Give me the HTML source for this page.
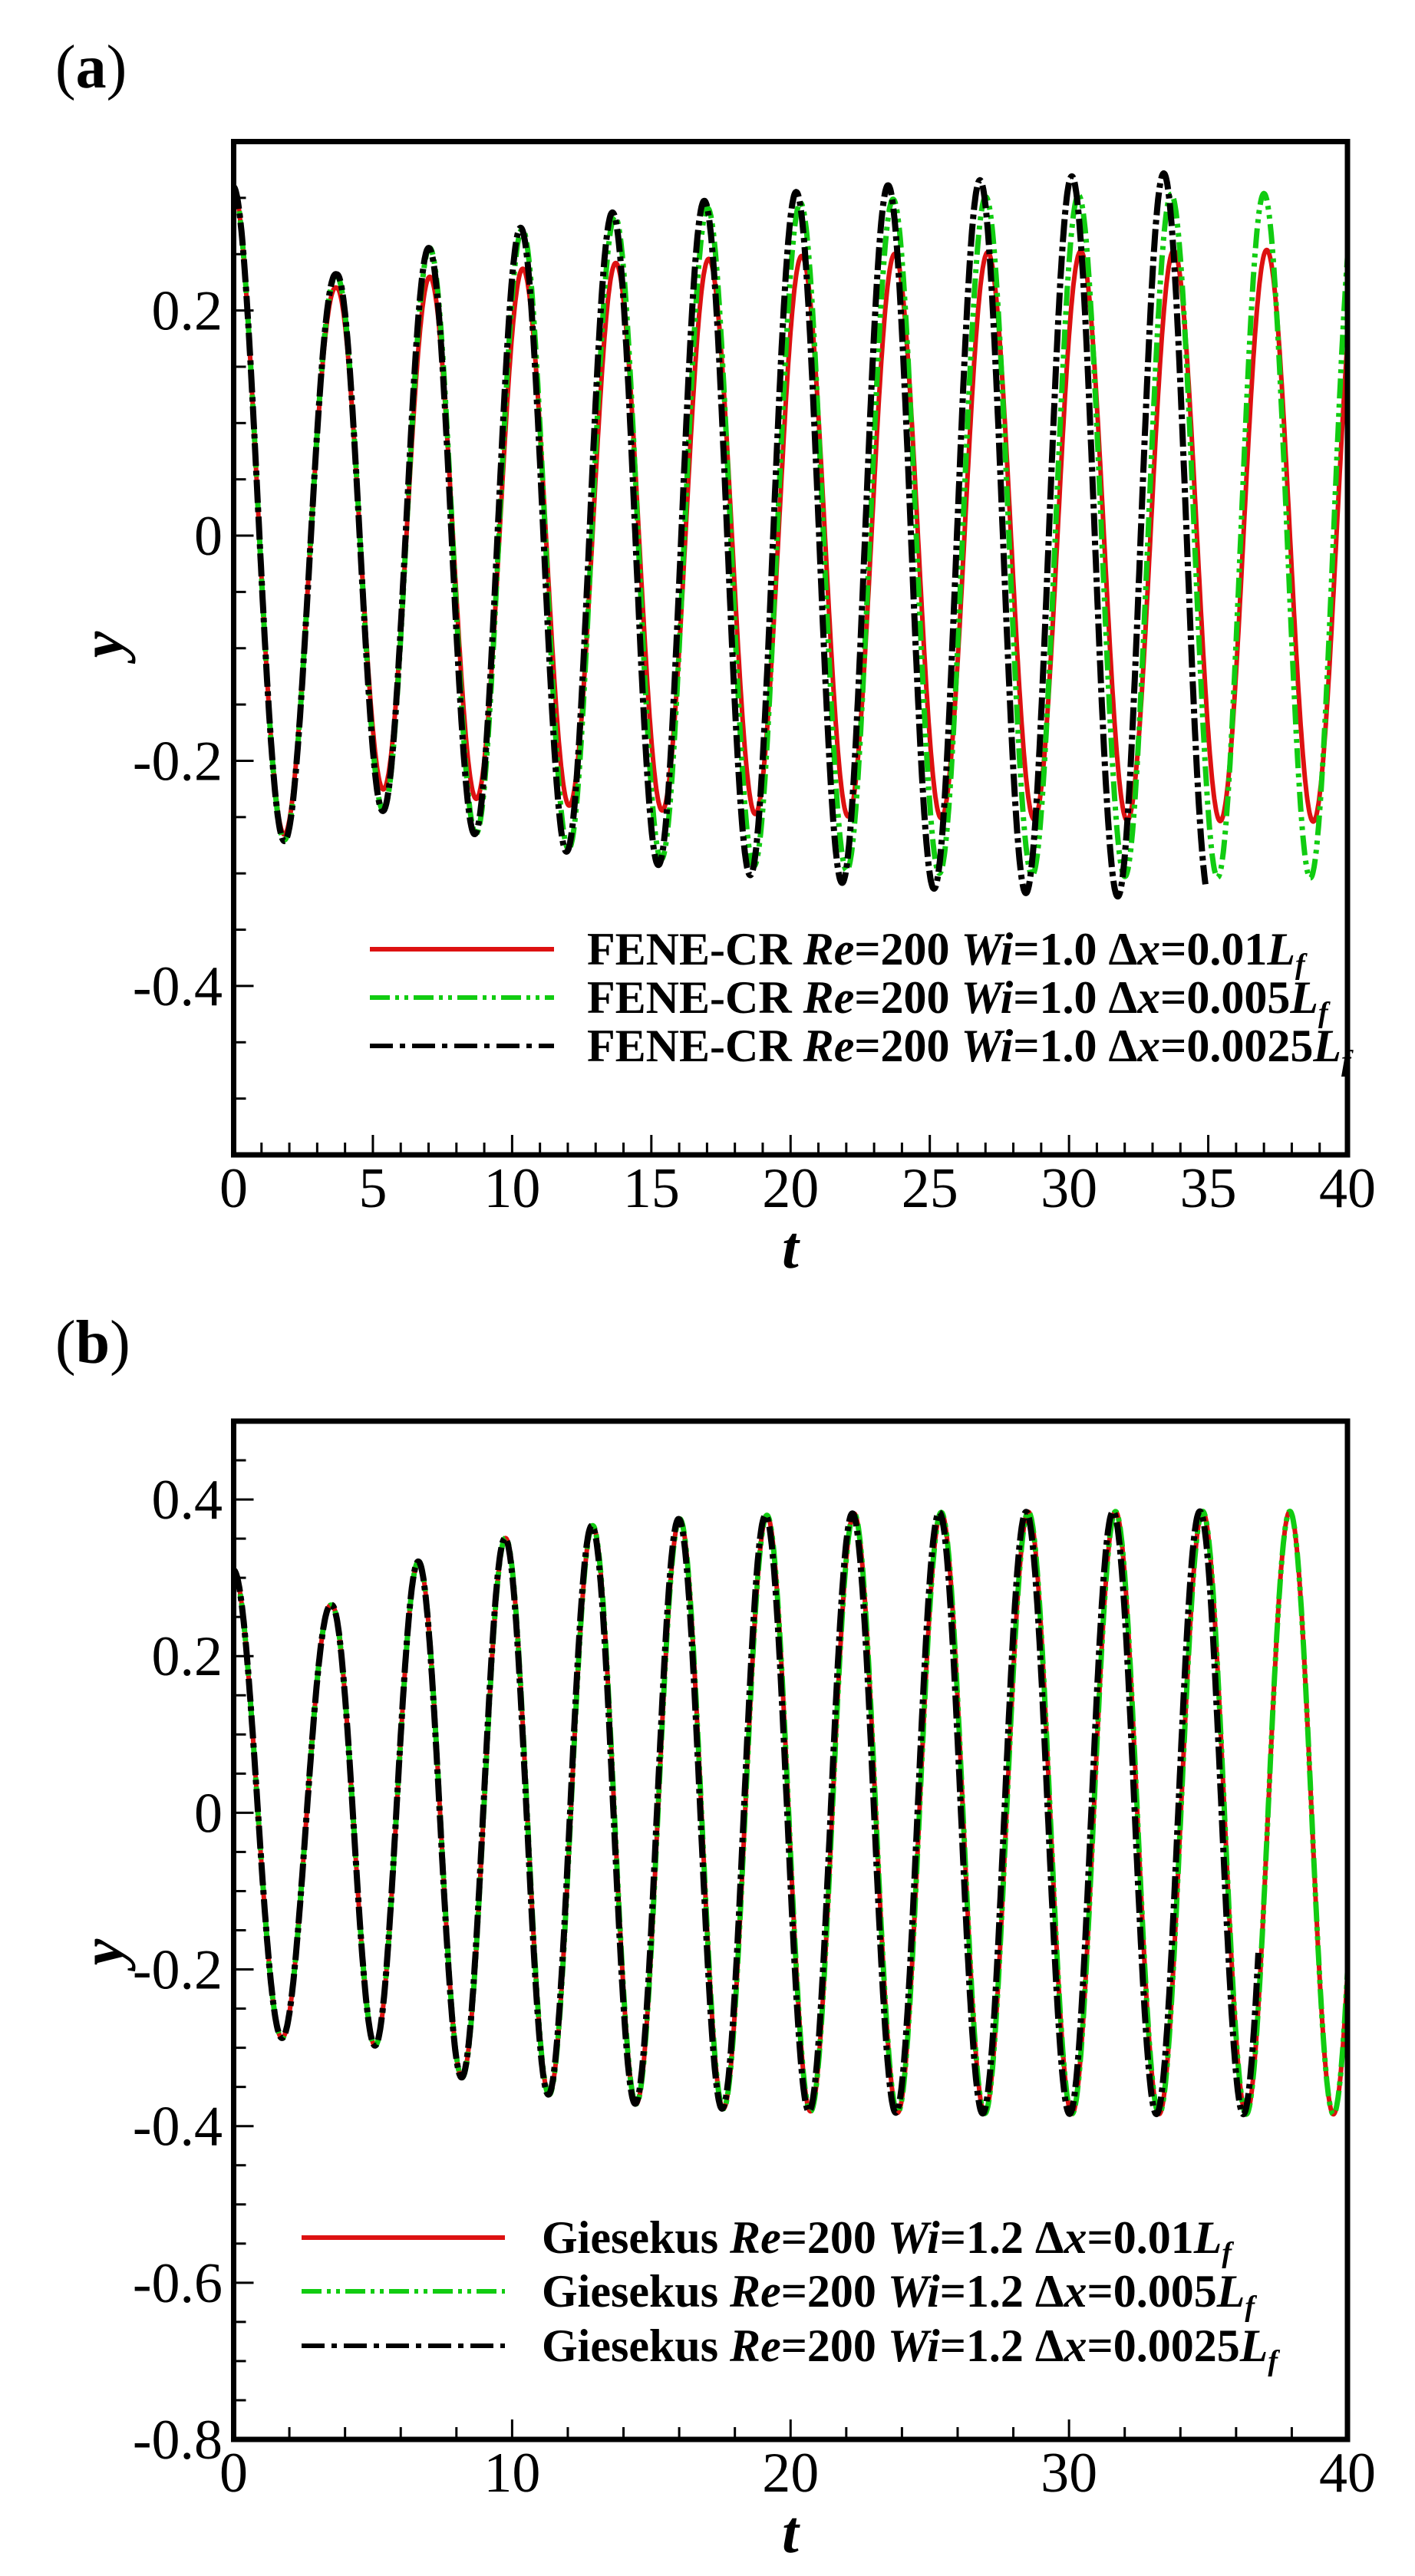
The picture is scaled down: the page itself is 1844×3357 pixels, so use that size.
<!DOCTYPE html>
<html><head><meta charset="utf-8"><style>
html,body{margin:0;padding:0;background:#fff}
svg{display:block}
text{font-family:"Liberation Serif",serif}
</style></head><body>
<svg id="s" width="1844" height="3357" viewBox="0 0 1844 3357" xmlns="http://www.w3.org/2000/svg">
<rect width="1844" height="3357" fill="#fff"/>
<text x="72" y="114" font-size="80">(<tspan font-weight="bold">a</tspan>)</text>
<text x="72" y="1776" font-size="80">(<tspan font-weight="bold">b</tspan>)</text>
<g id="pa"></g><g id="pb"></g>
<g font-size="60" font-weight="bold">
<line x1="482" y1="1237" x2="722" y2="1237" stroke="#d11" stroke-width="6"/>
<line x1="482" y1="1300" x2="722" y2="1300" stroke="#1c1" stroke-width="6" stroke-dasharray="26 7 5 7 5 7"/>
<line x1="482" y1="1363" x2="722" y2="1363" stroke="#000" stroke-width="6" stroke-dasharray="30 9 7 9"/>
<text x="765" y="1257">FENE-CR <tspan font-style="italic">Re</tspan>=200 <tspan font-style="italic">Wi</tspan>=1.0 Δ<tspan font-style="italic">x</tspan>=0.01<tspan font-style="italic">L</tspan><tspan font-style="italic" font-size="38" dy="12">f</tspan></text>
<text x="765" y="1320">FENE-CR <tspan font-style="italic">Re</tspan>=200 <tspan font-style="italic">Wi</tspan>=1.0 Δ<tspan font-style="italic">x</tspan>=0.005<tspan font-style="italic">L</tspan><tspan font-style="italic" font-size="38" dy="12">f</tspan></text>
<text x="765" y="1383">FENE-CR <tspan font-style="italic">Re</tspan>=200 <tspan font-style="italic">Wi</tspan>=1.0 Δ<tspan font-style="italic">x</tspan>=0.0025<tspan font-style="italic">L</tspan><tspan font-style="italic" font-size="38" dy="12">f</tspan></text>
<line x1="393" y1="2916" x2="658" y2="2916" stroke="#d11" stroke-width="6"/>
<line x1="393" y1="2986" x2="658" y2="2986" stroke="#1c1" stroke-width="6" stroke-dasharray="26 7 5 7 5 7"/>
<line x1="393" y1="3057" x2="658" y2="3057" stroke="#000" stroke-width="6" stroke-dasharray="30 9 7 9"/>
<text x="706" y="2936">Giesekus <tspan font-style="italic">Re</tspan>=200 <tspan font-style="italic">Wi</tspan>=1.2 Δ<tspan font-style="italic">x</tspan>=0.01<tspan font-style="italic">L</tspan><tspan font-style="italic" font-size="38" dy="12">f</tspan></text>
<text x="706" y="3006">Giesekus <tspan font-style="italic">Re</tspan>=200 <tspan font-style="italic">Wi</tspan>=1.2 Δ<tspan font-style="italic">x</tspan>=0.005<tspan font-style="italic">L</tspan><tspan font-style="italic" font-size="38" dy="12">f</tspan></text>
<text x="706" y="3077">Giesekus <tspan font-style="italic">Re</tspan>=200 <tspan font-style="italic">Wi</tspan>=1.2 Δ<tspan font-style="italic">x</tspan>=0.0025<tspan font-style="italic">L</tspan><tspan font-style="italic" font-size="38" dy="12">f</tspan></text>
</g>
</svg>
<script>
var NS="http://www.w3.org/2000/svg";
function el(p,tag,at,txt){var e=document.createElementNS(NS,tag);for(var k in at)e.setAttribute(k,at[k]);if(txt!=null)e.textContent=txt;p.appendChild(e);return e;}
var L=304.5,R=1756;
function X(t){return L+t*(R-L)/40;}
function panel(g,top,bot,ymax,ymin,xmaj,xmin,ylabs,series,tlY,ylY){
  var sc=(bot-top)/(ymax-ymin);
  function Y(v){return top+(ymax-v)*sc;}
  var cid="c"+top;
  var cp=el(g,"clipPath",{id:cid});el(cp,"rect",{x:L,y:top,width:R-L,height:bot-top});
  var cg=el(g,"g",{"clip-path":"url(#"+cid+")"});
  series.forEach(function(s){
    var d="";
    for(var t=0;t<=s.t1+1e-9;t+=0.02){
      var ph,A;
      if(t<s.tp){ph=(t-s.tp)/s.tp;A=s.a0+(s.a1-s.a0)*t/s.tp;}
      else{ph=(t-s.tp)/s.P;A=s.Am-(s.Am-s.a1)*Math.exp(-(t-s.tp)/s.tau);}
      var v=A*Math.cos(2*Math.PI*ph);
      d+=(d?"L":"M")+X(t).toFixed(1)+" "+Y(v).toFixed(1);
    }
    var at={d:d,fill:"none",stroke:s.c,"stroke-width":s.w,"stroke-linejoin":"round"};
    if(s.da)at["stroke-dasharray"]=s.da;
    el(cg,"path",at);
  });
  for(var t=0;t<=40.001;t+=xmin){
    var maj=Math.abs(t/xmaj-Math.round(t/xmaj))<1e-6;
    el(g,"line",{x1:X(t),x2:X(t),y1:bot,y2:bot-(maj?26:16),stroke:"#000","stroke-width":3});
    if(maj)el(g,"text",{x:X(t),y:bot+68,"font-size":74,"text-anchor":"middle"},String(Math.round(t)));
  }
  for(var v=ymin;v<=ymax+1e-6;v+=0.05){
    var vv=Math.round(v*100)/100;
    var maj=Math.abs(vv*5-Math.round(vv*5))<1e-6;
    el(g,"line",{x1:L,x2:L+(maj?26:16),y1:Y(vv),y2:Y(vv),stroke:"#000","stroke-width":3});
  }
  ylabs.forEach(function(v){
    var s=v===0?"0":(v<0?"-":"")+Math.abs(v).toFixed(1);
    el(g,"text",{x:290,y:Y(v)+25,"font-size":74,"text-anchor":"end"},s);
  });
  el(g,"rect",{x:L,y:top,width:R-L,height:bot-top,fill:"none",stroke:"#000","stroke-width":7});
  el(g,"text",{x:1030,y:tlY,"font-size":78,"font-style":"italic","font-weight":"bold","text-anchor":"middle"},"t");
  el(g,"text",{x:0,y:0,"font-size":78,"font-style":"italic","font-weight":"bold","text-anchor":"middle",transform:"translate(160,"+ylY+") rotate(-90)"},"y");
}
panel(document.getElementById("pa"),184.5,1505,0.35,-0.55,5,1,[0.2,0,-0.2,-0.4],[
 {c:"#d11",w:6,tp:3.7,P:3.34,a0:0.31,a1:0.22,Am:0.255,tau:10,t1:40},
 {c:"#1c1",w:7,tp:3.7,P:3.33,a0:0.31,a1:0.23,Am:0.305,tau:8,t1:40,da:"26 7 5 7 5 7"},
 {c:"#000",w:8,tp:3.7,P:3.3,a0:0.31,a1:0.232,Am:0.33,tau:12,t1:34.9,da:"30 6 6 6"}
],1652,840);
panel(document.getElementById("pb"),1852,3179,0.5,-0.8,10,2,[0.4,0.2,0,-0.2,-0.4,-0.6,-0.8],[
 {c:"#d11",w:6,tp:3.5,P:3.13,a0:0.31,a1:0.265,Am:0.385,tau:5,t1:40},
 {c:"#1c1",w:7,tp:3.5,P:3.13,a0:0.31,a1:0.265,Am:0.385,tau:5,t1:40,da:"26 7 5 7 5 7"},
 {c:"#000",w:8,tp:3.5,P:3.12,a0:0.31,a1:0.265,Am:0.385,tau:5,t1:36.8,da:"30 6 6 6"}
],3326,2544);
</script>
</body></html>
